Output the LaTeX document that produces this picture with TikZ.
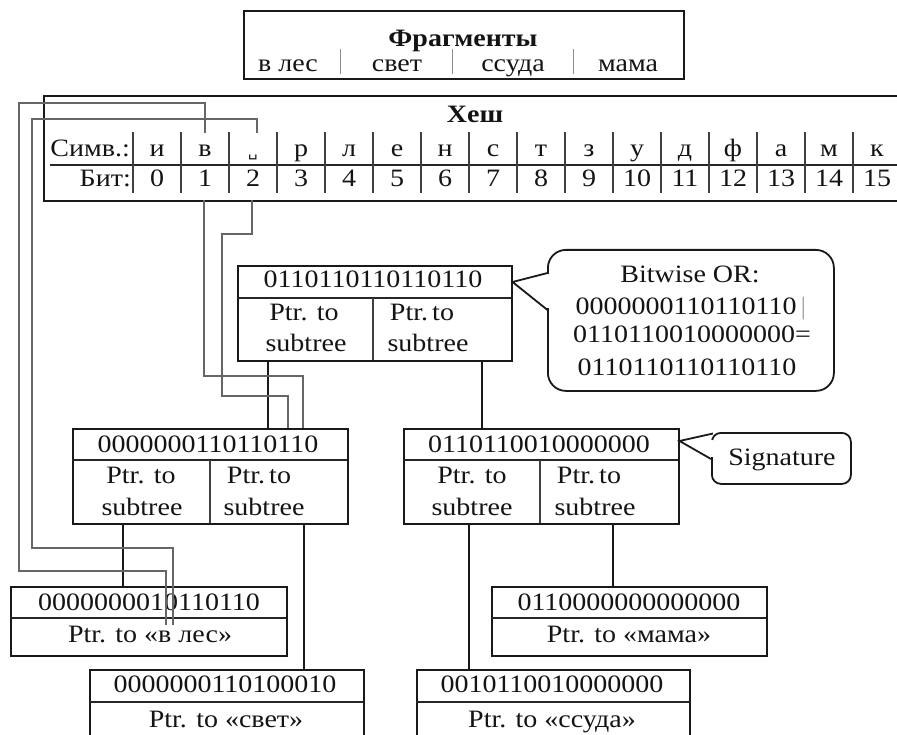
\documentclass[tikz,border=0pt]{standalone}
\usepackage{fontspec}
\setmainfont{Liberation Serif}[FakeStretch=1.12]
\newfontfamily\symbfont{DejaVu Sans}
\begin{document}
\begin{tikzpicture}[x=1pt,y=-1pt,
  lbl/.style={anchor=base, inner sep=0pt, text=black!92, font=\fontsize{25}{30}\selectfont},
  boldlbl/.style={lbl, font=\fontsize{25}{30}\selectfont\bfseries},
  box/.style={draw=black!90, line width=2.2pt, inner sep=0pt, anchor=north west},
  hrule/.style={line width=1.4pt, black!85},
  vrule/.style={line width=1.1pt, black!75},
  link/.style={line width=1.8pt, black!90},
  wire/.style={line width=1.3pt, draw=black!60},
  bubble/.style={draw=black!90, line width=1.8pt, inner sep=0pt, anchor=north west, fill=white},
]
\useasboundingbox (0,0) rectangle (897,735);

% ---------- Fragments box ----------
\node[box, minimum width=440pt, minimum height=68pt] (frag) at (243,10) {};
\node[boldlbl] (fragt) at (463,47) {Фрагменты};
\node[lbl] (f1) at (288,72) {в лес};
\node[lbl] (f2) at (397,72) {свет};
\node[lbl] (f3) at (513,72) {ссуда};
\node[lbl] (f4) at (628,72) {мама};
\foreach \x in {340,452,573} \draw[line width=0.8pt, black!45] (\x,49) -- (\x,74);

% ---------- Hash table ----------
\node[box, minimum width=859pt, minimum height=105pt] (hash) at (43,95) {};
\node[boldlbl] (hasht) at (475,123) {Хеш};
\draw[hrule] (50,165) -- (902,165);
\foreach \k in {0,...,15} \draw[vrule] ({133+48*\k},132) -- ({133+48*\k},193);
\node[lbl, anchor=base east] (symlbl) at (130,157) {Симв.:};
\node[lbl, anchor=base east] (bitlbl) at (131,187) {Бит:};
\foreach \s [count=\k from 0] in {и,в,{{\symbfont\fontsize{15}{15}\selectfont ␣}},р,л,е,н,с,т,з,у,д,ф,а,м,к}
  \node[lbl] (s\k) at ({157+48*\k},157) {\s};
\foreach \k in {0,...,15}
  \node[lbl] (b\k) at ({157+48*\k},187) {\k};

% ---------- Root node ----------
\node[box, minimum width=274pt, minimum height=95pt] (root) at (237,265) {};
\draw[hrule] (237,298) -- (511,298);
\draw[vrule] (373,298) -- (373,360);
\node[lbl] (rsig) at (373,288) {0110110110110110};
\node[lbl] (rp1) at (304,320) {Ptr. to};
\node[lbl] (rs1) at (306,352) {subtree};
\node[lbl] (rp2) at (422,320) {Ptr.\,to};
\node[lbl] (rs2) at (428,352) {subtree};

% ---------- Middle left ----------
\node[box, minimum width=275pt, minimum height=95pt] (ml) at (72,428) {};
\draw[hrule] (72,460) -- (347,460);
\draw[vrule] (210,460) -- (210,523);
\node[lbl] (mlsig) at (208,452) {0000000110110110};
\node[lbl] (mlp1) at (141,483) {Ptr. to};
\node[lbl] (mls1) at (142,515) {subtree};
\node[lbl] (mlp2) at (259,483) {Ptr.\,to};
\node[lbl] (mls2) at (264,515) {subtree};

% ---------- Middle right ----------
\node[box, minimum width=275pt, minimum height=95pt] (mr) at (403,428) {};
\draw[hrule] (403,460) -- (678,460);
\draw[vrule] (540,460) -- (540,523);
\node[lbl] (mrsig) at (539,452) {0110110010000000};
\node[lbl] (mrp1) at (472,483) {Ptr. to};
\node[lbl] (mrs1) at (472,515) {subtree};
\node[lbl] (mrp2) at (589,483) {Ptr.\,to};
\node[lbl] (mrs2) at (595,515) {subtree};

% ---------- Leaves ----------
\node[box, minimum width=276pt, minimum height=69pt] (lv) at (10,586) {};
\draw[hrule] (10,618) -- (286,618);
\node[lbl] (lvsig) at (149,610) {0000000010110110};
\node[lbl] (lvp) at (150,642) {Ptr. to «в лес»};

\node[box, minimum width=274pt, minimum height=66pt] (ls) at (89,669) {};
\draw[hrule] (89,702) -- (363,702);
\node[lbl] (lssig) at (225,692) {0000000110100010};
\node[lbl] (lsp) at (226,727) {Ptr. to «свет»};

\node[box, minimum width=275pt, minimum height=69pt] (lm) at (491,586) {};
\draw[hrule] (491,618) -- (766,618);
\node[lbl] (lmsig) at (629,610) {0110000000000000};
\node[lbl] (lmp) at (629,642) {Ptr. to «мама»};

\node[box, minimum width=273pt, minimum height=66pt] (lc) at (416,669) {};
\draw[hrule] (416,702) -- (689,702);
\node[lbl] (lcsig) at (552,692) {0010110010000000};
\node[lbl] (lcp) at (552,727) {Ptr. to «ссуда»};

% ---------- Tree links ----------
\coordinate (r1) at (268,360); \coordinate (r2) at (482,360);
\draw[link] (r1) -- (r1 |- ml.north);
\draw[link] (r2) -- (r2 |- mr.north);
\coordinate (m1) at (123,523); \coordinate (m2) at (304,523);
\draw[link] (m1) -- (m1 |- lv.north);
\draw[link] (m2) -- (m2 |- ls.north);
\coordinate (n1) at (469,523); \coordinate (n2) at (613,523);
\draw[link] (n1) -- (n1 |- lc.north);
\draw[link] (n2) -- (n2 |- lm.north);

% ---------- Wires from hash bits ----------
\coordinate (hv) at (205,133);
\coordinate (hsp) at (257,133);
\coordinate (bv) at (204,200);
\coordinate (bsp) at (252,200);
\coordinate (lvA) at (166,625);
\coordinate (lvB) at (173,625);
\coordinate (mlA) at (303,428);
\coordinate (mlB) at (288,428);
\draw[wire] (hv) -- (205,103) -| (19,571) -| (lvA);
\draw[wire] (hsp) -- (257,119) -| (32,548) -| (lvB);
\draw[wire] (bv) |- (303,376) -- (mlA);
\draw[wire] (bsp) -- (252,234) -| (222,396) -| (mlB);

% ---------- Callout: Bitwise OR ----------
\node[bubble, rounded corners=18pt, minimum width=286pt, minimum height=141pt] (orb) at (547,249) {};
\fill[white] (545.5,274.5) rectangle (549.5,308.5);
\draw[line width=1.8pt, black!90, line join=miter] (547.5,273) -- (512.5,282) -- (547.5,310);
\node[lbl] (or1) at (690,283) {Bitwise OR:};
\node[lbl] (or2) at (691,315) {0000000110110110\,{\color{black!35}|}};
\node[lbl] (or3) at (692,343) {0110110010000000=};
\node[lbl] (or4) at (687,375) {0110110110110110};

% ---------- Callout: Signature ----------
\node[bubble, rounded corners=9pt, minimum width=139pt, minimum height=51pt] (sigb) at (711,432) {};
\fill[white] (709.5,440) rectangle (713,457);
\draw[line width=1.8pt, black!90, line join=miter] (713,433.5) -- (679.5,441) -- (711,459);
\node[lbl] (sigt) at (782,465) {Signature};
\end{tikzpicture}
\end{document}
